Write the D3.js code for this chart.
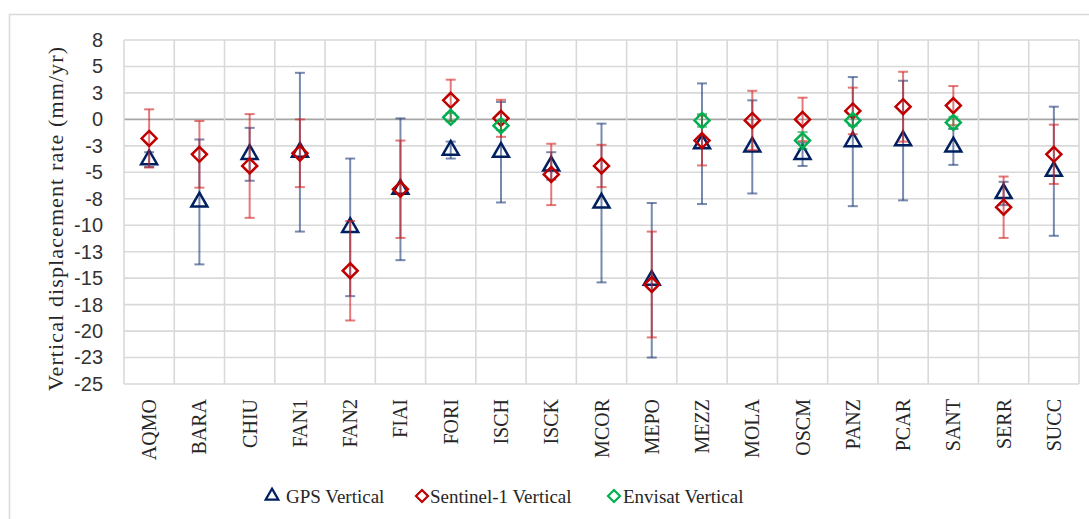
<!DOCTYPE html>
<html>
<head>
<meta charset="utf-8">
<script src="https://cdn.jsdelivr.net/npm/d3@7"></script>
<style>
  body { margin: 0; background: #fff; }
  svg { display: block; }
</style>
</head>
<body>
<svg id="chart" width="1089" height="519"></svg>
<script>
// stations along the x axis
var stations = ["AQMO", "BARA", "CHIU", "FAN1", "FAN2", "FIAI", "FORI", "ISCH", "ISCK", "MCOR",
    "MEPO", "MEZZ", "MOLA", "OSCM", "PANZ", "PCAR", "SANT", "SERR", "SUCC"];

// GPS vertical rate and its error (mm/yr)
var gpsValues = [-3.8, -7.8, -3.3, -3.1, -10.2, -6.6, -2.9, -3.1, -4.4, -7.9,
    -15.2, -2.3, -2.6, -3.3, -2.1, -2.0, -2.6, -7.0, -4.9];
var gpsErrors = [0.7, 5.9, 2.5, 7.5, 6.5, 6.7, 0.8, 4.75, 1.3, 7.5,
    7.3, 5.7, 4.4, 1.1, 6.1, 5.65, 1.7, 1.1, 6.1];

// Sentinel-1 vertical rate and error
var s1Values = [-1.8, -3.3, -4.4, -3.2, -14.3, -6.6, 1.8, 0.1, -5.2, -4.4,
    -15.6, -2.0, -0.1, 0.0, 0.8, 1.2, 1.3, -8.3, -3.3];
var s1Errors = [2.75, 3.15, 4.9, 3.2, 4.7, 4.6, 1.95, 1.75, 2.9, 2.0,
    5.0, 2.35, 2.8, 2.05, 2.2, 3.3, 1.85, 2.9, 2.8];

// Envisat vertical rate and error (only some stations)
var envValues = [null, null, null, null, null, null, 0.2, -0.6, null, null,
    null, -0.1, null, -2.0, -0.1, null, -0.3, null, null];
var envErrors = [null, null, null, null, null, null, 0.4, 0.4, null, null,
    null, 0.6, null, 0.8, 0.5, null, 0.55, null, null];

// y axis ticks and their labels as printed
var yTicks = [-25, -22.5, -20, -17.5, -15, -12.5, -10, -7.5, -5, -2.5, 0, 2.5, 5, 7.5];
var yTickLabels = ["-25", "-23", "-20", "-18", "-15", "-13", "-10", "-8", "-5", "-3", "0", "3", "5", "8"];

var seriesNames = ["GPS Vertical", "Sentinel-1 Vertical", "Envisat Vertical"];

var svg = d3.select("#chart");
var serif = "'Liberation Serif', 'Times New Roman', serif";
var sans = "'Liberation Sans', Arial, sans-serif";

var plotL = 124, plotR = 1079, plotT = 40, plotB = 384;

// outer chart frame
svg.append("rect")
    .attr("x", 9.5).attr("y", 14.5)
    .attr("width", 1100).attr("height", 520)
    .attr("fill", "none")
    .attr("stroke", "#d9d9d9")
    .attr("stroke-width", 1.5);

var x = d3.scaleBand().domain(stations).range([plotL, plotR]);
var y = d3.scaleLinear().domain([-25, 7.5]).range([plotB, plotT]);

// horizontal gridlines
svg.append("g")
    .selectAll("line")
    .data(yTicks)
    .enter()
    .append("line")
    .attr("x1", plotL).attr("x2", plotR)
    .attr("y1", function (d) { return y(d); })
    .attr("y2", function (d) { return y(d); })
    .attr("stroke", function (d) { return d === 0 ? "#a6a6a6" : "#d9d9d9"; })
    .attr("stroke-width", 1.6);

// vertical gridlines at category borders
var borders = stations.map(function (s) { return x(s); }).concat([plotR]);
svg.append("g")
    .selectAll("line")
    .data(borders)
    .enter()
    .append("line")
    .attr("x1", function (d) { return d; })
    .attr("x2", function (d) { return d; })
    .attr("y1", plotT).attr("y2", plotB)
    .attr("stroke", "#d9d9d9")
    .attr("stroke-width", 1.6);

// y axis labels
var yAxis = d3.axisLeft(y)
    .tickValues(yTicks)
    .tickSize(0)
    .tickPadding(21)
    .tickFormat(function (d, i) { return yTickLabels[i]; });
var ya = svg.append("g")
    .attr("transform", "translate(" + plotL + ",0)")
    .call(yAxis);
ya.select(".domain").remove();
ya.selectAll("text")
    .attr("font-family", sans)
    .attr("font-size", 20)
    .attr("fill", "#333");

// y axis title (Cambria-like width)
svg.append("text")
    .attr("transform", "translate(55,219) rotate(-90)")
    .attr("text-anchor", "middle")
    .attr("dy", "0.35em")
    .attr("font-family", serif)
    .attr("font-size", 22)
    .attr("textLength", 344)
    .attr("lengthAdjust", "spacing")
    .attr("fill", "#262626")
    .text("Vertical displacement rate (mm/yr)");

// x labels, rotated
svg.append("g")
    .selectAll("text")
    .data(stations)
    .enter()
    .append("text")
    .attr("transform", function (d) {
        return "translate(" + (x(d) + x.bandwidth() / 2) + ",399) rotate(-90)";
    })
    .attr("text-anchor", "end")
    .attr("dy", "0.35em")
    .attr("font-family", serif)
    .attr("font-size", 20)
    .attr("fill", "#262626")
    .text(function (d) { return d; });

var triangle = d3.symbol().type(d3.symbolTriangle).size(110);
var diamond = function (r) {
    return "M0," + (-r) + "L" + r + ",0L0," + r + "L" + (-r) + ",0Z";
};

function drawSeries(values, errors, barColor, markColor, marker) {
    var pts = [];
    for (var i = 0; i < stations.length; i++) {
        if (values[i] !== null) {
            pts.push({ s: stations[i], v: values[i], e: errors[i] });
        }
    }
    var g = svg.append("g");
    var cx = function (d) { return x(d.s) + x.bandwidth() / 2; };

    // error bars
    var eb = g.append("g")
        .attr("stroke", barColor)
        .attr("stroke-opacity", 0.6)
        .attr("stroke-width", 2);
    eb.selectAll(".stem")
        .data(pts)
        .enter()
        .append("line")
        .attr("x1", cx).attr("x2", cx)
        .attr("y1", function (d) { return y(d.v + d.e); })
        .attr("y2", function (d) { return y(d.v - d.e); });
    eb.selectAll(".capTop")
        .data(pts)
        .enter()
        .append("line")
        .attr("x1", function (d) { return cx(d) - 5; })
        .attr("x2", function (d) { return cx(d) + 5; })
        .attr("y1", function (d) { return y(d.v + d.e); })
        .attr("y2", function (d) { return y(d.v + d.e); });
    eb.selectAll(".capBot")
        .data(pts)
        .enter()
        .append("line")
        .attr("x1", function (d) { return cx(d) - 5; })
        .attr("x2", function (d) { return cx(d) + 5; })
        .attr("y1", function (d) { return y(d.v - d.e); })
        .attr("y2", function (d) { return y(d.v - d.e); });

    // markers
    g.append("g")
        .selectAll("path")
        .data(pts)
        .enter()
        .append("path")
        .attr("d", marker)
        .attr("transform", function (d) {
            return "translate(" + cx(d) + "," + y(d.v) + ")";
        })
        .attr("fill", "none")
        .attr("stroke", markColor)
        .attr("stroke-width", 2.5);
}

drawSeries(gpsValues, gpsErrors, "#1f3c7a", "#002060", triangle);
drawSeries(s1Values, s1Errors, "#d42020", "#c00000", diamond(7.5));
drawSeries(envValues, envErrors, "#00a040", "#00b050", diamond(7.5));

// legend
var legendItems = [
    { name: seriesNames[0], color: "#002060", marker: d3.symbol().type(d3.symbolTriangle).size(70)(), mx: 272, tx: 286 },
    { name: seriesNames[1], color: "#c00000", marker: diamond(6), mx: 422, tx: 430 },
    { name: seriesNames[2], color: "#00b050", marker: diamond(6), mx: 614, tx: 623 }
];
var lg = svg.append("g");
lg.selectAll("path")
    .data(legendItems)
    .enter()
    .append("path")
    .attr("d", function (d) { return d.marker; })
    .attr("transform", function (d) { return "translate(" + d.mx + ",496)"; })
    .attr("fill", "none")
    .attr("stroke", function (d) { return d.color; })
    .attr("stroke-width", 2.2);
lg.selectAll("text")
    .data(legendItems)
    .enter()
    .append("text")
    .attr("x", function (d) { return d.tx; })
    .attr("y", 496)
    .attr("dy", "0.35em")
    .attr("font-family", serif)
    .attr("font-size", 19)
    .attr("fill", "#262626")
    .text(function (d) { return d.name; });
</script>
</body>
</html>
